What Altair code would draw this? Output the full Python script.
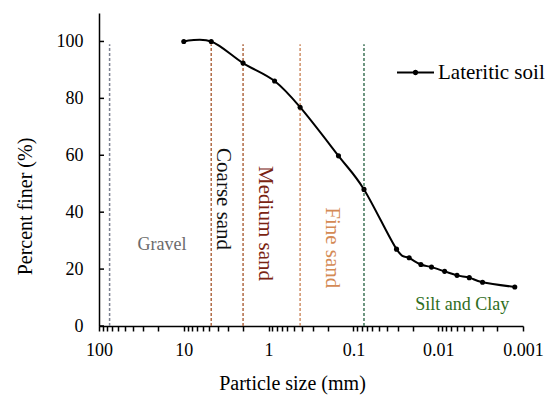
import altair as alt
import pandas as pd

# Grain-size distribution of the lateritic soil
sizes_mm = [10, 4.75, 2.0, 0.85, 0.425, 0.15, 0.075, 0.031, 0.022, 0.016,
            0.012, 0.0084, 0.006, 0.0043, 0.003, 0.00125]
pct_finer = [100, 100, 92.4, 86.1, 76.9, 59.8, 48.0, 27.0, 24.0, 21.6,
             20.7, 19.2, 17.8, 17.0, 15.4, 13.7]
series_name = "Lateritic soil"

# Soil-class boundaries (mm) drawn as dashed verticals
bound_mm = [75, 4.75, 2.0, 0.425, 0.075]
bound_top = [99, 99, 99, 99, 99]
bound_color = ["#7c8190", "#b06a45", "#b06a45", "#cf9068", "#3f7458"]

# Zone labels written up/down the chart
vlabel_text = ["Coarse sand", "Medium sand", "Fine sand"]
vlabel_x = [3.45, 1.10, 0.179]
vlabel_y = [44.6, 36.0, 27.5]
vlabel_color = ["#111111", "#7a2412", "#d48a55"]

# Zone labels written across
hlabel_text = ["Gravel", "Silt and Clay"]
hlabel_x = [18.1, 0.0052]
hlabel_y = [28.4, 7.4]
hlabel_color = ["#6b6b6b", "#2f6e22"]

y_ticks = [0, 20, 40, 60, 80, 100]
x_ticks = [round(k * 10.0 ** e, 6) for e in range(-3, 2) for k in range(1, 10)] + [100]

FONT = "Liberation Serif"

curve = pd.DataFrame({"size": sizes_mm, "finer": pct_finer, "series": series_name})
bounds = pd.DataFrame({"size": bound_mm, "lo": 0, "hi": bound_top, "color": bound_color})
vlab = pd.DataFrame({"size": vlabel_x, "finer": vlabel_y, "text": vlabel_text, "color": vlabel_color})
hlab = pd.DataFrame({"size": hlabel_x, "finer": hlabel_y, "text": hlabel_text, "color": hlabel_color})
yt = pd.DataFrame({"finer": y_ticks})

x_scale = alt.Scale(type="log", domain=[0.001, 100], reverse=True)
y_scale = alt.Scale(domain=[0, 110], nice=False)

x_enc = alt.X(
    "size:Q",
    scale=x_scale,
    axis=alt.Axis(
        values=x_ticks,
        labelExpr="abs(log(datum.value)/LN10 - round(log(datum.value)/LN10)) < 0.001 ? format(datum.value, '~g') : ''",
        tickSize=5,
        tickWidth=1.5,
        tickColor="black",
        labelFontSize=18,
        labelColor="black",
        labelPadding=10,
        labelFlush=False,
        labelOverlap=False,
        domainColor="black",
        domainWidth=1.5,
        title="Particle size (mm)",
        titleFontSize=20,
        titleFontWeight="normal",
        titleColor="black",
        titleX=193,
        titleY=63,
        titleAlign="center",
        titleBaseline="alphabetic",
        grid=False,
    ),
)

y_enc = alt.Y(
    "finer:Q",
    scale=y_scale,
    axis=alt.Axis(
        values=y_ticks,
        ticks=False,
        labelFontSize=18,
        labelColor="black",
        labelPadding=16,
        domainColor="black",
        domainWidth=1.5,
        title="Percent finer (%)",
        titleFontSize=20,
        titleFontWeight="normal",
        titleColor="black",
        titleAngle=270,
        titleX=-74,
        titleY=193,
        titleAlign="center",
        titleBaseline="middle",
        grid=False,
    ),
)

rules = alt.Chart(bounds).mark_rule(strokeDash=[3, 2], strokeWidth=1.5).encode(
    x=alt.X("size:Q", scale=x_scale),
    y=alt.Y("lo:Q", scale=y_scale),
    y2="hi:Q",
    color=alt.Color("color:N", scale=None),
)

inner_ticks = alt.Chart(yt).mark_rule(color="black", strokeWidth=1.5).encode(
    y=alt.Y("finer:Q", scale=y_scale),
    x=alt.value(0),
    x2=alt.value(5),
)

legend_symbol = "M-1,0L1,0M-0.09,0A0.09,0.09 0 1,0 0.09,0A0.09,0.09 0 1,0 -0.09,0Z"

line = alt.Chart(curve).mark_line(interpolate="cardinal", strokeWidth=2).encode(
    x=x_enc,
    y=y_enc,
    color=alt.Color(
        "series:N",
        scale=alt.Scale(range=["black"]),
        legend=alt.Legend(
            title=None,
            orient="none",
            legendX=297,
            legendY=40,
            symbolType=legend_symbol,
            symbolSize=1369,
            symbolStrokeWidth=2,
            symbolStrokeColor="black",
            symbolFillColor="black",
            labelFontSize=21,
            labelColor="black",
            labelOffset=3,
            padding=0,
        ),
    ),
)

points = alt.Chart(curve).mark_point(filled=True, size=26, color="black", opacity=1).encode(
    x=alt.X("size:Q", scale=x_scale),
    y=alt.Y("finer:Q", scale=y_scale),
)

vtext = alt.Chart(vlab).mark_text(fontSize=21, angle=90, align="center", baseline="middle").encode(
    x=alt.X("size:Q", scale=x_scale),
    y=alt.Y("finer:Q", scale=y_scale),
    text="text:N",
    color=alt.Color("color:N", scale=None),
)

htext = alt.Chart(hlab).mark_text(fontSize=18, align="center", baseline="middle").encode(
    x=alt.X("size:Q", scale=x_scale),
    y=alt.Y("finer:Q", scale=y_scale),
    text="text:N",
    color=alt.Color("color:N", scale=None),
)

chart = (
    alt.layer(line, rules, inner_ticks, points, vtext, htext)
    .resolve_scale(color="independent")
    .properties(
        width=424,
        height=313,
        autosize=alt.AutoSizeParams(type="none"),
        padding={"left": 99, "top": 13, "right": 27, "bottom": 71},
        background="white",
    )
    .configure(font=FONT)
    .configure_axis(labelFont=FONT, titleFont=FONT)
    .configure_legend(labelFont=FONT)
    .configure_text(font=FONT)
    .configure_view(stroke=None)
)

chart.save("out.html", embed_options={"renderer": "svg", "actions": False})
